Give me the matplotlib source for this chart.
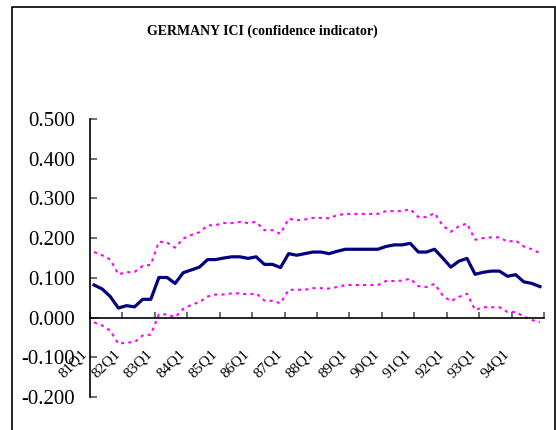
import numpy as np
import matplotlib
matplotlib.use('Agg')
import matplotlib.pyplot as plt
from matplotlib.patches import Rectangle

# quarterly data 81Q1 .. 94Q4
quarters = [f"{y}Q{q}" for y in range(81, 95) for q in range(1, 5)]

ici = [0.082, 0.072, 0.053, 0.024, 0.030, 0.027, 0.046, 0.046,
       0.101, 0.101, 0.086, 0.113, 0.120, 0.127, 0.146, 0.146,
       0.150, 0.153, 0.153, 0.149, 0.153, 0.134, 0.134, 0.126,
       0.161, 0.157, 0.161, 0.165, 0.165, 0.161, 0.167, 0.172,
       0.172, 0.172, 0.172, 0.172, 0.179, 0.183, 0.183, 0.187,
       0.165, 0.165, 0.172, 0.150, 0.127, 0.142, 0.149, 0.109,
       0.114, 0.117, 0.117, 0.104, 0.108, 0.090, 0.086, 0.078]

upper = [0.165, 0.157, 0.146, 0.109, 0.114, 0.115, 0.130, 0.133,
         0.191, 0.189, 0.176, 0.199, 0.208, 0.215, 0.232, 0.233,
         0.238, 0.238, 0.241, 0.238, 0.241, 0.220, 0.220, 0.211,
         0.249, 0.245, 0.247, 0.251, 0.251, 0.250, 0.258, 0.261,
         0.261, 0.261, 0.261, 0.261, 0.268, 0.268, 0.268, 0.273,
         0.253, 0.253, 0.263, 0.232, 0.216, 0.230, 0.237, 0.196,
         0.200, 0.202, 0.202, 0.191, 0.194, 0.179, 0.172, 0.162]

lower = [-0.012, -0.020, -0.033, -0.066, -0.063, -0.062, -0.045, -0.043,
         0.008, 0.008, 0.001, 0.022, 0.032, 0.039, 0.053, 0.058,
         0.058, 0.061, 0.061, 0.058, 0.061, 0.043, 0.042, 0.036,
         0.070, 0.070, 0.070, 0.074, 0.074, 0.073, 0.077, 0.082,
         0.082, 0.082, 0.082, 0.082, 0.092, 0.092, 0.093, 0.098,
         0.079, 0.077, 0.085, 0.056, 0.041, 0.052, 0.060, 0.019,
         0.026, 0.026, 0.026, 0.014, 0.014, 0.003, -0.006, -0.012]

year_labels = quarters[::4]
yticks = [-0.2, -0.1, 0.0, 0.1, 0.2, 0.3, 0.4, 0.5]

plt.rcParams['font.family'] = ['Liberation Serif', 'DejaVu Serif']

fig = plt.figure(figsize=(5.56, 4.30), dpi=100)
ax = fig.add_axes([90/556, 33/430, 454/556, 278/430])

x = np.arange(len(ici)) + 0.5
ax.plot(x, upper, color='#ff00ff', lw=1.5, ls=(0, (1.5, 2)))
ax.plot(x, lower, color='#ff00ff', lw=1.5, ls=(0, (1.5, 2)))
ax.plot(x, ici, color='#000080', lw=2.3)

ax.spines['top'].set_visible(False)
ax.spines['right'].set_visible(False)
ax.spines['bottom'].set_position(('data', 0))
ax.spines['left'].set_linewidth(1.2)
ax.spines['bottom'].set_linewidth(1.2)
ax.tick_params(axis='y', direction='in', length=5, width=1.2, color='#555555', pad=11)
ax.tick_params(axis='x', direction='in', length=4, width=1.2, color='#555555', pad=21)

ax.set_xlim(0, len(ici))
ax.set_ylim(-0.2, 0.5)
ax.set_yticks(yticks)
ax.set_yticklabels([f"{v:.3f}" for v in yticks], fontsize=15)

ax.set_xticks(np.arange(0, len(ici) + 1, 4))
ax.set_xticklabels(year_labels + [''], fontsize=11)
plt.setp(ax.get_xticklabels(), rotation=45, ha='right', va='top')

fig.text(262/556, 1 - 31/430, 'GERMANY ICI (confidence indicator)',
         ha='center', va='center', fontsize=10, fontweight='bold')

# chart area frame
fig.patches.append(Rectangle((11.5/556, -0.05), 543/556, 1.05 - 7/430,
                             transform=fig.transFigure, fill=False,
                             edgecolor='black', lw=1.2))

fig.savefig('out.png', dpi=100)
